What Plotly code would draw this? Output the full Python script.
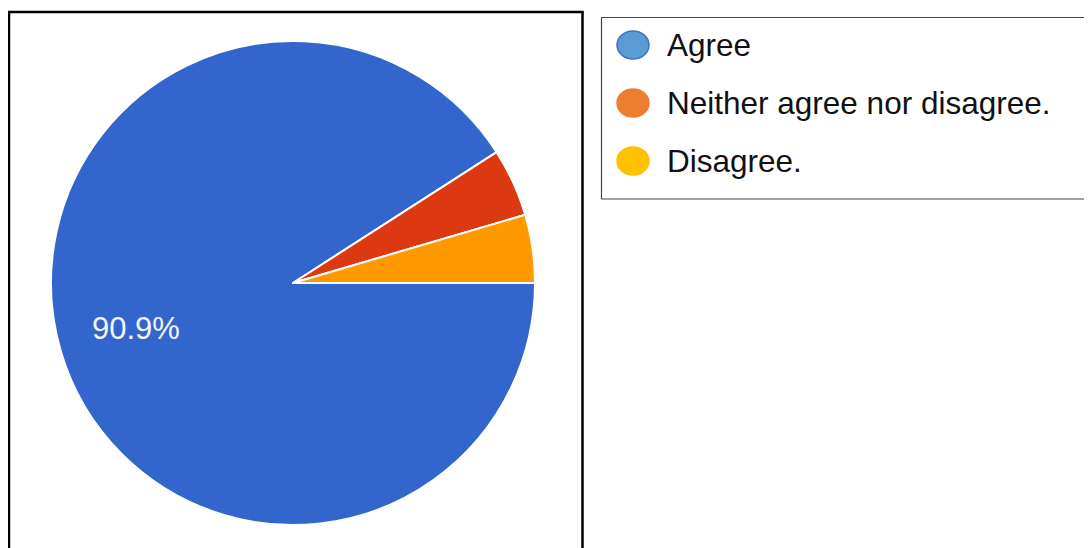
import plotly.graph_objects as go

categories = ["Agree", "Neither agree nor disagree.", "Disagree."]
counts = [20, 1, 1]
pie_colors = ["#3366CC", "#DC3912", "#FF9900"]
legend_colors = ["#5B9BD5", "#ED7D31", "#FFC000"]
legend_borders = ["#4472C4", "#ED7D31", "#FFC000"]

W, H = 1092, 548
OFF = 8  # page body margin
cx, cy, r = 293 - OFF, 283 - OFF, 242

def px(x):
    return (x - OFF) / W

def py(y):
    return 1 - (y - OFF) / H

fig = go.Figure()
fig.add_trace(go.Pie(
    labels=categories,
    values=counts,
    textinfo="none",
    marker=dict(colors=pie_colors, line=dict(color="white", width=2)),
    sort=False,
    direction="clockwise",
    rotation=90,
    showlegend=False,
    domain=dict(x=[(cx - r) / W, (cx + r) / W], y=[(H - cy - r) / H, (H - cy + r) / H]),
))

shapes = []
annotations = []
# percentage label of the main slice
pct = 100 * counts[0] / sum(counts)
annotations.append(dict(text=f"{pct:.1f}%", xref="paper", yref="paper",
                        x=px(135.5), y=py(328), xanchor="center", yanchor="middle",
                        showarrow=False,
                        font=dict(family="Liberation Sans, Arial", size=31, color="#F4F4F4")))
# outer frame around pie (open at the bottom, beyond the picture)
frame = dict(color="black", width=2.5)
shapes.append(dict(type="line", xref="paper", yref="paper", x0=px(9), x1=px(9), y0=-0.2, y1=py(12), line=frame))
shapes.append(dict(type="line", xref="paper", yref="paper", x0=px(582.5), x1=px(582.5), y0=-0.2, y1=py(12), line=frame))
shapes.append(dict(type="line", xref="paper", yref="paper", x0=px(7.8), x1=px(583.7), y0=py(12), y1=py(12), line=frame))
# legend box (open on the right, beyond the picture)
lb = dict(color="#444444", width=1.2)
shapes.append(dict(type="line", xref="paper", yref="paper", x0=px(601.5), x1=px(601.5), y0=py(199), y1=py(17.5), line=lb))
shapes.append(dict(type="line", xref="paper", yref="paper", x0=px(601.5), x1=1.0, y0=py(17.5), y1=py(17.5), line=lb))
shapes.append(dict(type="line", xref="paper", yref="paper", x0=px(601.5), x1=1.0, y0=py(199), y1=py(199), line=lb))
row_y = [45, 103, 161]
for name, col, bcol, yy in zip(categories, legend_colors, legend_borders, row_y):
    shapes.append(dict(type="circle", xref="paper", yref="paper",
                       x0=px(633 - 16), x1=px(633 + 16),
                       y0=py(yy + 14), y1=py(yy - 14),
                       fillcolor=col, line=dict(color=bcol, width=1.5)))
    annotations.append(dict(text=name, xref="paper", yref="paper",
                            x=px(665), y=py(yy), xanchor="left", yanchor="middle",
                            showarrow=False,
                            font=dict(family="Liberation Sans, Arial", size=31.5, color="#111111")))

fig.update_layout(
    width=W, height=H,
    margin=dict(l=0, r=0, t=0, b=0),
    paper_bgcolor="white",
    plot_bgcolor="white",
    shapes=shapes,
    annotations=annotations,
)

fig.write_html("out.html")
